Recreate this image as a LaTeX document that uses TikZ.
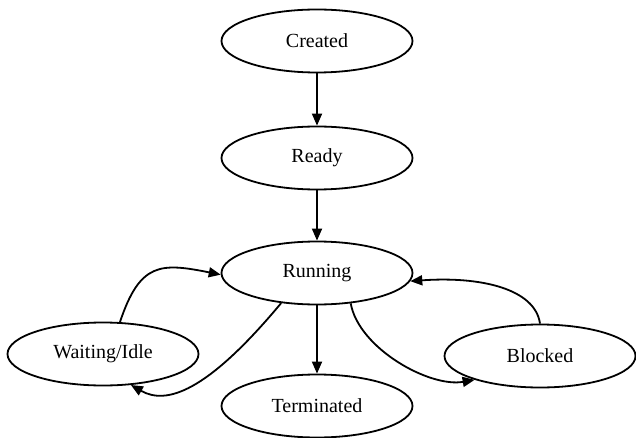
\documentclass[tikz,border=0pt]{standalone}
\usepackage{fontspec}
\setmainfont{Liberation Serif}
\usepackage{tikz}
\usetikzlibrary{arrows.meta, shapes.geometric}

\tikzset{
  state/.style={ellipse, draw, line width=1.8pt, minimum width=191pt, minimum height=63pt,
    inner sep=0pt, font=\fontsize{20}{22}\selectfont},
  trans/.style={line width=1.8pt, -{Triangle[length=12pt, width=10pt]}}
}

\begin{document}
\begin{tikzpicture}[x=1pt, y=1pt]
        \useasboundingbox (0,0) rectangle (636,-438);
        % States
        \node[state] (created) at (317,-41) {Created};
        \node[state] (ready) at (317,-158) {Ready};
        \node[state] (running) at (317,-273) {Running};
        \node[state] (waiting) at (103,-354) {Waiting/Idle};
        \node[state] (blocked) at (540,-356) {Blocked};
        \node[state] (terminated) at (317,-406) {Terminated};
        % Transitions
        \draw[trans] (created) -- (ready);
        \draw[trans] (ready) -- (running);
        \draw[trans] (running) -- (terminated);
        \draw[trans] (waiting.62) .. controls +(20,60) and +(-60,12) .. (running.181);
        \draw[trans] (running.220) .. controls +(-75,-90) and +(35,-20) .. (waiting.312);
        \draw[trans] (running.318) .. controls +(8,-45) and +(-45,-8) .. (blocked.200);
        \draw[trans] (blocked.north) .. controls +(-5,35) and +(70,5) .. (running.355);
\end{tikzpicture}
\end{document}
